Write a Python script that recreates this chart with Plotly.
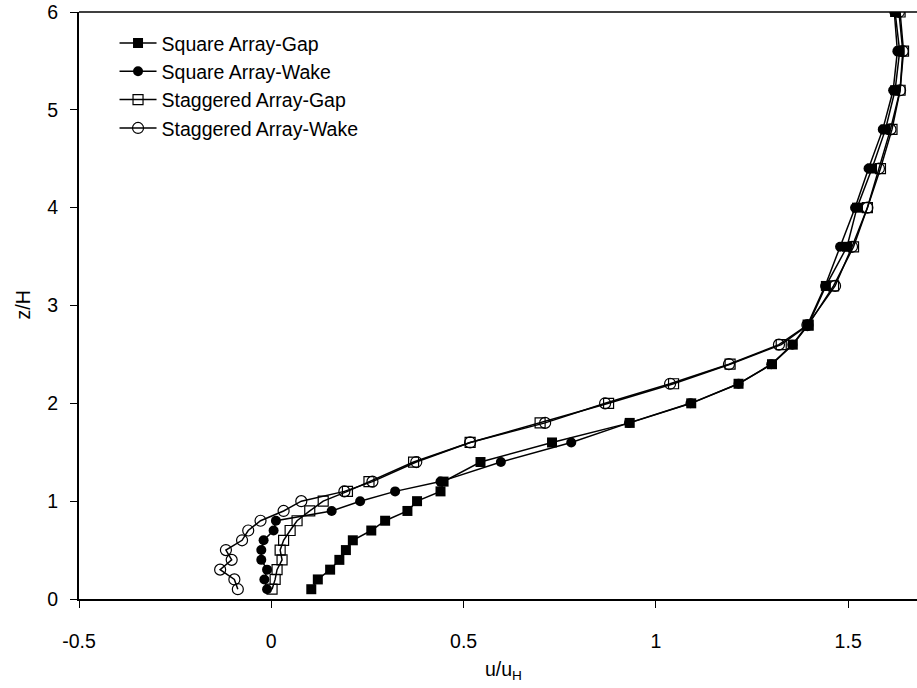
import plotly.graph_objects as go

z = [0.1, 0.2, 0.3, 0.4, 0.5, 0.6, 0.7, 0.8, 0.9, 1.0, 1.1, 1.2, 1.4, 1.6, 1.8,
     2.0, 2.2, 2.4, 2.6, 2.8, 3.2, 3.6, 4.0, 4.4, 4.8, 5.2, 5.6, 6.0]

square_gap = [0.104, 0.121, 0.153, 0.177, 0.194, 0.212, 0.260, 0.296, 0.354, 0.379,
              0.440, 0.448, 0.544, 0.730, 0.932, 1.092, 1.215, 1.302, 1.356, 1.396,
              1.442, 1.497, 1.523, 1.562, 1.597, 1.622, 1.634, 1.622]

square_wake = [-0.011, -0.018, -0.011, -0.026, -0.026, -0.020, 0.006, 0.012, 0.157, 0.231,
               0.322, 0.440, 0.597, 0.780, 0.930, 1.090, 1.215, 1.300, 1.355, 1.394,
               1.440, 1.479, 1.518, 1.553, 1.590, 1.617, 1.628, 1.620]

staggered_gap = [0.002, 0.010, 0.015, 0.028, 0.023, 0.032, 0.049, 0.067, 0.100, 0.135,
                 0.198, 0.254, 0.370, 0.517, 0.699, 0.877, 1.046, 1.193, 1.326, 1.396,
                 1.462, 1.514, 1.550, 1.584, 1.614, 1.635, 1.644, 1.635]

staggered_wake = [-0.087, -0.096, -0.133, -0.103, -0.118, -0.076, -0.060, -0.028, 0.032, 0.078,
                  0.190, 0.263, 0.377, 0.517, 0.712, 0.868, 1.037, 1.190, 1.320, 1.394,
                  1.466, 1.510, 1.550, 1.580, 1.610, 1.635, 1.642, 1.632]

names = ["Square Array-Gap", "Square Array-Wake", "Staggered Array-Gap", "Staggered Array-Wake"]
xtick_vals = [-0.5, 0, 0.5, 1, 1.5]
xtick_text = ["-0.5", "0", "0.5", "1", "1.5"]
ytick_vals = [0, 1, 2, 3, 4, 5, 6]

FONT = "Liberation Sans, Arial, sans-serif"
FS = 19.5

fig = go.Figure()
series = [square_gap, square_wake, staggered_gap, staggered_wake]
symbols = ["square", "circle", "square-open", "circle-open"]
sizes = [10, 10, 10, 11]
for i, (vals, nm, sym, sz) in enumerate(zip(series, names, symbols, sizes)):
    fig.add_trace(go.Scatter(
        x=vals, y=z, name=nm, mode="lines+markers",
        legendgroup=f"g{i}",
        line=dict(color="black", width=1.5),
        marker=dict(symbol=sym, size=sz, color="black",
                    line=dict(color="black", width=1.2 if "open" in sym else 0)),
    ))

fig.update_layout(
    width=917, height=688,
    margin=dict(l=79, r=0, t=12, b=89),
    plot_bgcolor="white", paper_bgcolor="white",
    font=dict(family=FONT, size=FS, color="black"),
    showlegend=True,
    legend=dict(x=0.0424, y=0.980, xanchor="left", yanchor="top",
                bgcolor="rgba(0,0,0,0)", borderwidth=0,
                font=dict(size=FS), itemwidth=37, tracegroupgap=0),
    xaxis=dict(range=[-0.5, 1.679], tickmode="array", tickvals=xtick_vals, ticktext=xtick_text,
               showgrid=False, zeroline=False, showline=True, linecolor="black", linewidth=2,
               ticks="outside", ticklen=7, tickwidth=1, tickcolor="black",
               ticklabelstandoff=17, tickfont=dict(size=FS)),
    yaxis=dict(range=[0, 6], tickmode="array", tickvals=ytick_vals,
               showgrid=False, zeroline=False, showline=True, linecolor="black", linewidth=2,
               ticks="outside", ticklen=7, tickwidth=1, tickcolor="black",
               ticklabelstandoff=8, tickfont=dict(size=FS), ticklabeloverflow="allow"),
    shapes=[dict(type="line", xref="paper", yref="paper", x0=0, x1=1, y0=1, y1=1,
                 line=dict(color="black", width=1.5))],
    annotations=[
        dict(text="u/u<sub>H</sub>", xref="paper", yref="paper", x=0.5, xshift=5, y=0,
             yshift=-57, xanchor="center", yanchor="top", showarrow=False,
             font=dict(size=FS)),
        dict(text="z/H", xref="paper", yref="paper", x=0, xshift=-57, y=0.5,
             textangle=-90, xanchor="center", yanchor="middle", showarrow=False,
             font=dict(size=FS)),
    ],
)

# remove the default 8px page margin so the figure fills the window exactly
fig.write_html("out.html", config={"displayModeBar": False},
               post_script="document.body.style.margin='0';document.body.style.padding='0';")
